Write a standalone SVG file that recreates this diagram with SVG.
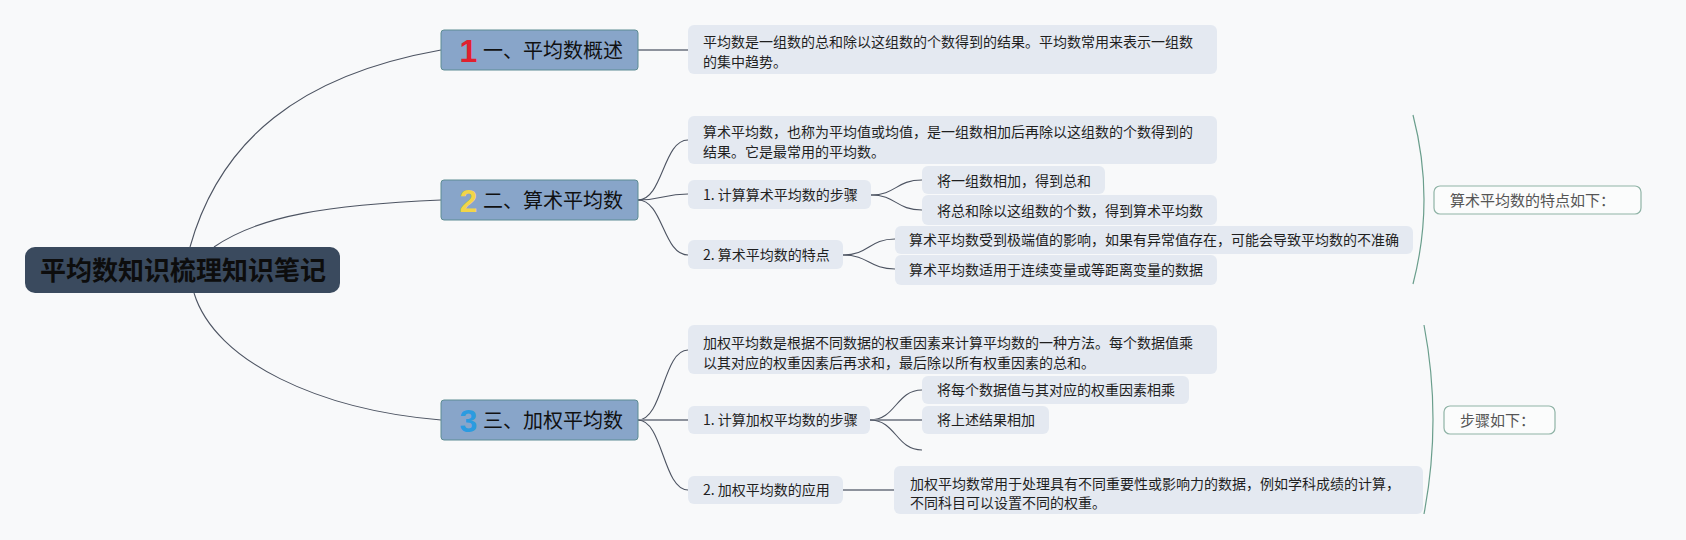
<svg xmlns="http://www.w3.org/2000/svg" width="1686" height="540" viewBox="0 0 1686 540">
<style>
.cjk{font-family:"Noto Sans CJK SC","Noto Sans",sans-serif}
.t2{font-size:14px;fill:#1f1f1f}
.box{fill:#e4e9f1}
.topic{fill:#88a5c9;stroke:#5d8c93;stroke-width:1}
.ttxt{font-size:20px;fill:#111}
.num{font-family:"Liberation Sans",Arial,sans-serif;font-weight:bold;font-size:32px;text-anchor:middle}
.curve{fill:none;stroke:#4d5462;stroke-width:1.1}
.straight{fill:none;stroke:#8d929c;stroke-width:2}
.brk{fill:none;stroke:#6a9e8c;stroke-width:1.2}
.sum{fill:#fbfcfc;stroke:#8fb3a6;stroke-width:1.2}
.stxt{font-size:15px;fill:#555}
</style>
<rect width="1686" height="540" fill="#f8f9fa"/>
<g id="connectors">
<path class="curve" d="M190,247 C220,140 300,75 441,50"/>
<path class="curve" d="M214,247 C260,215 330,205 441,200"/>
<path class="curve" d="M194,293 C215,362 320,410 441,420"/>
<path class="straight" d="M638,50 L688,50"/>
<path class="curve" d="M638,200 C663,200 663,140 688,140"/>
<path class="curve" d="M638,200 C663,200 663,194 688,194"/>
<path class="curve" d="M638,200 C663,200 663,255 688,255"/>
<path class="curve" d="M871,195 C896,195 896,180 922,180"/>
<path class="curve" d="M871,195 C896,195 896,210 922,210"/>
<path class="curve" d="M843,255 C869,255 869,239 895,239"/>
<path class="curve" d="M843,255 C869,255 869,269 895,269"/>
<path class="curve" d="M638,420 C663,420 663,350 688,350"/>
<path class="straight" d="M638,420 L688,420"/>
<path class="curve" d="M638,420 C663,420 663,490 688,490"/>
<path class="curve" d="M870,420 C896,420 896,390 922,390"/>
<path class="straight" d="M870,420 L922,420"/>
<path class="curve" d="M870,420 C896,420 896,450 922,450"/>
<path class="straight" d="M843,490 L894,490"/>
<path class="brk" d="M1413,115 Q1435,199.5 1413,284"/>
<path class="brk" d="M1424,325 Q1442,419.5 1424,514"/>
</g>
<g id="root">
<rect x="25" y="247" width="315" height="46" rx="10" fill="#3a4a5e"/>
<text class="cjk" x="183" y="280" font-size="26" font-weight="bold" fill="#0d0d0d" text-anchor="middle">平均数知识梳理知识笔记</text>
</g>
<g id="topic1">
<rect class="topic" x="441" y="30" width="197" height="40" rx="3"/>
<text class="num" x="468.5" y="62" fill="#e0202e">1</text>
<text class="cjk ttxt" x="483" y="58">一、平均数概述</text>
</g>
<g id="topic2">
<rect class="topic" x="441" y="180" width="197" height="40" rx="3"/>
<text class="num" x="468.5" y="212" fill="#f2d548">2</text>
<text class="cjk ttxt" x="483" y="208">二、算术平均数</text>
</g>
<g id="topic3">
<rect class="topic" x="441" y="400" width="197" height="40" rx="3"/>
<text class="num" x="468.5" y="432" fill="#2b9be0">3</text>
<text class="cjk ttxt" x="483" y="428">三、加权平均数</text>
</g>
<g id="t1-desc">
<rect class="box" x="688" y="25" width="529" height="49" rx="6"/>
<text class="cjk t2" x="703" y="47">平均数是一组数的总和除以这组数的个数得到的结果。平均数常用来表示一组数</text>
<text class="cjk t2" x="703" y="67">的集中趋势。</text>
</g>
<g id="t2-desc">
<rect class="box" x="688" y="116" width="529" height="48" rx="6"/>
<text class="cjk t2" x="703" y="137">算术平均数，也称为平均值或均值，是一组数相加后再除以这组数的个数得到的</text>
<text class="cjk t2" x="703" y="157">结果。它是最常用的平均数。</text>
</g>
<g id="t2-steps">
<rect class="box" x="688" y="180" width="183" height="29" rx="6"/>
<text class="cjk t2" x="703" y="200">1. 计算算术平均数的步骤</text>
</g>
<g id="t2-step1">
<rect class="box" x="922" y="166" width="183" height="28" rx="6"/>
<text class="cjk t2" x="937" y="186">将一组数相加，得到总和</text>
</g>
<g id="t2-step2">
<rect class="box" x="922" y="195" width="295" height="30" rx="6"/>
<text class="cjk t2" x="937" y="216">将总和除以这组数的个数，得到算术平均数</text>
</g>
<g id="t2-features">
<rect class="box" x="688" y="240" width="155" height="29" rx="6"/>
<text class="cjk t2" x="703" y="260">2. 算术平均数的特点</text>
</g>
<g id="t2-feat1">
<rect class="box" x="895" y="226" width="518" height="28" rx="6"/>
<text class="cjk t2" x="909" y="245">算术平均数受到极端值的影响，如果有异常值存在，可能会导致平均数的不准确</text>
</g>
<g id="t2-feat2">
<rect class="box" x="895" y="255" width="322" height="30" rx="6"/>
<text class="cjk t2" x="909" y="275">算术平均数适用于连续变量或等距离变量的数据</text>
</g>
<g id="summary1">
<rect class="sum" x="1434" y="186" width="207" height="28" rx="6"/>
<text class="cjk stxt" x="1450" y="205.5">算术平均数的特点如下：</text>
</g>
<g id="t3-desc">
<rect class="box" x="688" y="325" width="529" height="49" rx="6"/>
<text class="cjk t2" x="703" y="348">加权平均数是根据不同数据的权重因素来计算平均数的一种方法。每个数据值乘</text>
<text class="cjk t2" x="703" y="368">以其对应的权重因素后再求和，最后除以所有权重因素的总和。</text>
</g>
<g id="t3-steps">
<rect class="box" x="688" y="406" width="182" height="28" rx="6"/>
<text class="cjk t2" x="703" y="425">1. 计算加权平均数的步骤</text>
</g>
<g id="t3-step1">
<rect class="box" x="922" y="376" width="267" height="28" rx="6"/>
<text class="cjk t2" x="937" y="395">将每个数据值与其对应的权重因素相乘</text>
</g>
<g id="t3-step2">
<rect class="box" x="922" y="406" width="127" height="28" rx="6"/>
<text class="cjk t2" x="937" y="425">将上述结果相加</text>
</g>
<g id="t3-apply">
<rect class="box" x="688" y="476" width="155" height="28" rx="6"/>
<text class="cjk t2" x="703" y="495">2. 加权平均数的应用</text>
</g>
<g id="t3-apply-desc">
<rect class="box" x="894" y="466" width="529" height="48" rx="6"/>
<text class="cjk t2" x="910" y="489">加权平均数常用于处理具有不同重要性或影响力的数据，例如学科成绩的计算，</text>
<text class="cjk t2" x="910" y="508">不同科目可以设置不同的权重。</text>
</g>
<g id="summary2">
<rect class="sum" x="1444" y="406" width="111" height="28" rx="6"/>
<text class="cjk stxt" x="1460" y="425.5">步骤如下：</text>
</g>
</svg>
